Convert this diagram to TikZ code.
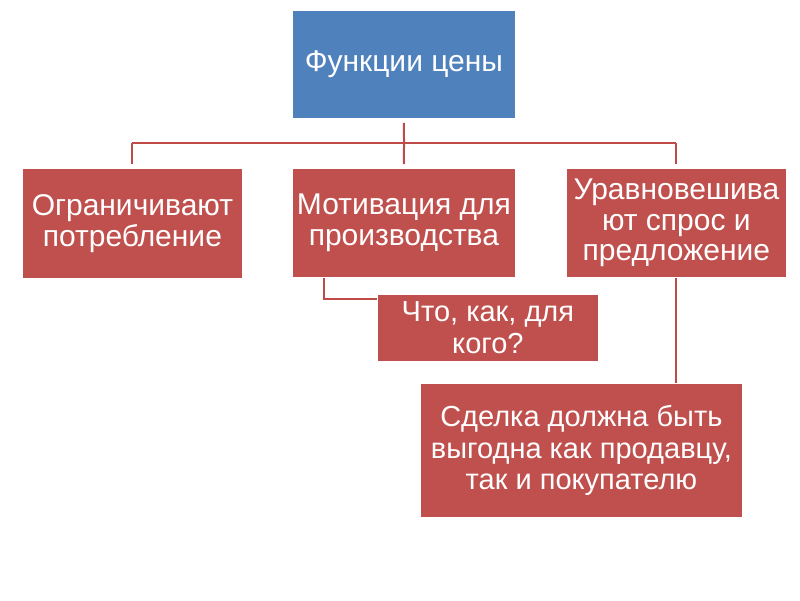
\documentclass[tikz,border=0pt]{standalone}
\usepackage{fontspec}
\setmainfont{Liberation Sans}
\usetikzlibrary{calc}
\definecolor{boxblue}{HTML}{4F81BD}
\definecolor{boxred}{HTML}{C0504D}
\definecolor{linkred}{HTML}{BE4B48}

\begin{document}
\begin{tikzpicture}[x=1pt, y=-1pt,
  box/.style={anchor=north west, fill=boxred, draw=white, line width=0.8pt,
    text=white, align=center, inner sep=0pt,
    font=\fontsize{30}{30.5}\selectfont},
  smallbox/.style={box, font=\fontsize{29}{31.5}\selectfont},
  link/.style={draw=linkred, line width=2pt}]
  \useasboundingbox (0,0) rectangle (800,600);
  % caja superior azul, las demas rojas
  \node[box, fill=boxblue, minimum width=223pt, minimum height=108pt] (f) at (292,10) {Функции цены};
  \node[box, minimum width=220pt, minimum height=110pt] (b1) at (22,168) {Ограничивают\\потребление};
  \node[box, minimum width=223pt, minimum height=109pt] (b2) at (292,168) {Мотивация для\\производства};
  \node[box, minimum width=220pt, minimum height=109pt] (b3) at (566,168) {Уравновешива\\ют спрос и\\предложение};
  \node[smallbox, minimum width=221pt, minimum height=67pt] (b4) at (377,294) {Что, как, для\\кого?};
  \node[smallbox, minimum width=322pt, minimum height=134pt] (b5) at (420,383) {Сделка должна быть\\выгодна как продавцу,\\так и покупателю};
  \coordinate (hub) at (404,143);
  % arbol desde la caja superior hacia las tres funciones
  \draw[link, shorten <=4pt] (f) -- (hub);
  \draw[link] (b1 |- hub) -- (b3 |- hub);
  \draw[link, shorten >=4pt] (b1 |- hub) -- (b1);
  \draw[link, shorten >=4pt] (hub) -- (b2);
  \draw[link, shorten >=4pt] (b3 |- hub) -- (b3);
  % ramas laterales
  \draw[link] ($(b2.south west)+(32,0)$) |- ($(b4.north west)+(0,5)$);
  \draw[link] (b3.south) -- (b3.south |- b5.north);
\end{tikzpicture}
\end{document}
